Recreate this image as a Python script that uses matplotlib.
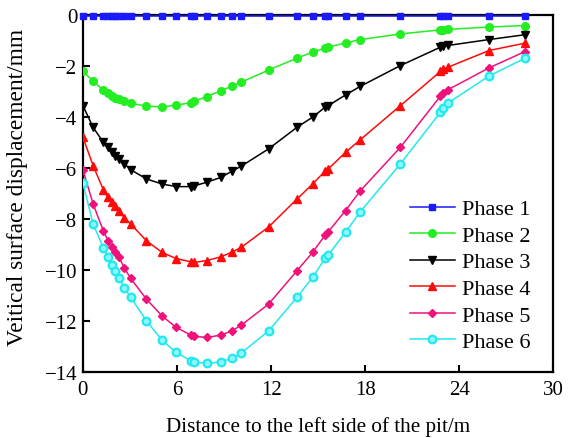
import matplotlib
matplotlib.use("Agg")
import matplotlib.pyplot as plt

plt.rcParams['font.family'] = ['Liberation Serif', 'DejaVu Serif']
plt.rcParams['mathtext.fontset'] = 'stix'

x = [0, 0.65, 1.3, 1.6, 1.85, 2.05, 2.3, 2.65, 3.05, 4.05, 5.05, 5.95, 6.9, 7.1, 7.9,
     8.8, 9.5, 10.1, 11.85, 13.65, 14.65, 15.45, 15.65, 16.75, 17.7, 20.25, 22.8, 23.0,
     23.3, 25.9, 28.2]

phase1 = [-0.03] * len(x)
phase2 = [-2.21, -2.61, -2.94, -3.08, -3.17, -3.24, -3.31, -3.38, -3.46, -3.58, -3.61,
          -3.54, -3.44, -3.38, -3.21, -2.97, -2.80, -2.64, -2.16, -1.70, -1.46, -1.30,
          -1.27, -1.10, -0.97, -0.75, -0.59, -0.58, -0.57, -0.48, -0.42]
phase3 = [-3.56, -4.41, -4.99, -5.19, -5.36, -5.52, -5.65, -5.84, -6.07, -6.43, -6.63,
          -6.73, -6.73, -6.70, -6.56, -6.37, -6.13, -5.93, -5.25, -4.41, -4.01, -3.62,
          -3.56, -3.14, -2.80, -1.99, -1.27, -1.23, -1.20, -0.97, -0.78]
phase4 = [-4.80, -5.91, -6.85, -7.15, -7.35, -7.50, -7.68, -7.95, -8.20, -8.85, -9.31,
          -9.55, -9.68, -9.70, -9.63, -9.48, -9.30, -9.11, -8.31, -7.22, -6.63, -6.12,
          -6.04, -5.39, -4.89, -3.56, -2.22, -2.14, -2.05, -1.40, -1.11]
phase5 = [-6.08, -7.41, -8.46, -8.85, -9.10, -9.28, -9.50, -9.93, -10.33, -11.14, -11.80,
          -12.25, -12.55, -12.60, -12.64, -12.55, -12.38, -12.16, -11.33, -10.03, -9.31,
          -8.63, -8.50, -7.67, -6.89, -5.19, -3.19, -3.06, -2.93, -2.08, -1.44]
phase6 = [-6.59, -8.20, -9.12, -9.50, -9.80, -10.03, -10.30, -10.70, -11.07, -11.99,
          -12.75, -13.23, -13.56, -13.60, -13.66, -13.60, -13.46, -13.25, -12.38, -11.07,
          -10.29, -9.54, -9.41, -8.52, -7.71, -5.84, -3.82, -3.66, -3.45, -2.40, -1.70]

labels = ["Phase 1", "Phase 2", "Phase 3", "Phase 4", "Phase 5", "Phase 6"]
xticks = [0, 6, 12, 18, 24, 30]
yticks = [0, -2, -4, -6, -8, -10, -12, -14]

fig = plt.figure(figsize=(5.68, 4.39), dpi=100)
ax = fig.add_axes([0.146, 0.150, 0.828, 0.814])

styles = [
    dict(color='#1a1aff', marker='s', ms=4.5, mfc='#1a1aff', mec='#1a1aff'),
    dict(color='#22ee22', marker='o', ms=5.5, mfc='#22ee22', mec='#22ee22'),
    dict(color='black', marker='v', ms=6, mfc='black', mec='black'),
    dict(color='#ff0a0a', marker='^', ms=6, mfc='#ff0a0a', mec='#ff0a0a'),
    dict(color='#f0127a', marker='D', ms=4.5, mfc='#f0127a', mec='#f0127a'),
    dict(color='#22e8f0', marker='o', ms=5.5, mfc='#8ff8ff', mec='#22e8f0', mew=1.6),
]
series = [phase1, phase2, phase3, phase4, phase5, phase6]
for ys, lab, st in zip(series, labels, styles):
    ax.plot(x, ys, lw=1.1, label=lab, clip_on=(lab != "Phase 1"), zorder=3, **st)

ax.set_xlim(0, 30)
ax.set_ylim(-14, 0)
ax.set_xticks(xticks)
ax.set_yticks(yticks)
ax.tick_params(axis='both', direction='in', length=5, width=1.5, labelsize=15,
               top=False, right=False)
ax.tick_params(axis='x', pad=6)
ax.tick_params(axis='y', pad=4)
for s in ax.spines.values():
    s.set_linewidth(1.6)

ax.set_xlabel("Distance to the left side of the pit/m", fontsize=15.2, labelpad=12)
ax.set_ylabel("Veitical surface displacement/mm", fontsize=16.8)
ax.yaxis.set_label_coords(-0.117, 0.52)

leg = ax.legend(loc='lower right', frameon=False, fontsize=16, handlelength=2.0,
                labelspacing=0.27, handletextpad=0.35,
                bbox_to_anchor=(0.995, 0.0))

fig.savefig("out.png", dpi=100)
